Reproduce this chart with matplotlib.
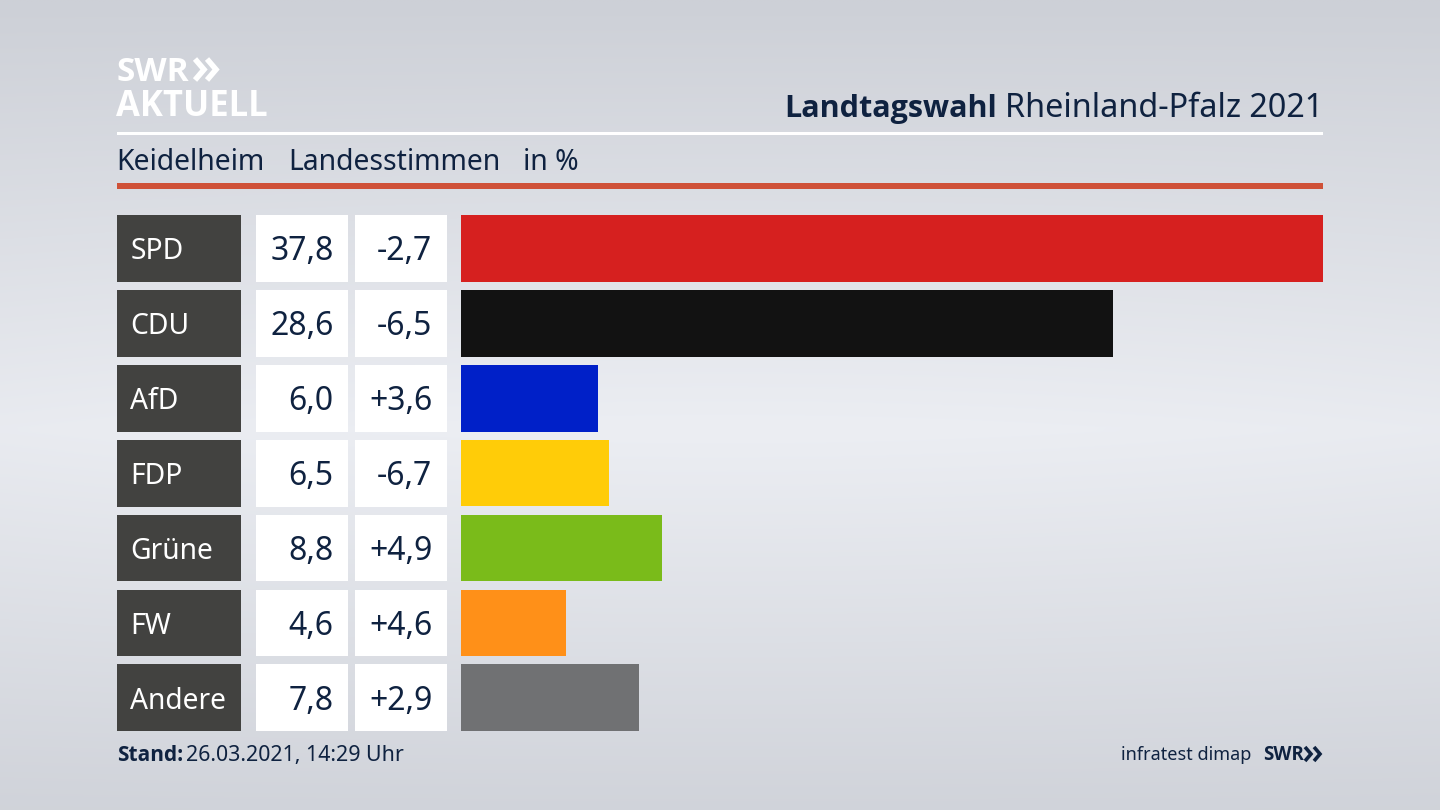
import matplotlib
matplotlib.use("Agg")
import matplotlib.pyplot as plt
import numpy as np
from matplotlib.patches import Rectangle

plt.rcParams['font.family'] = ['Noto Sans', 'DejaVu Sans']
BOLD = ['Open Sans', 'DejaVu Sans']

# data
parties = ["SPD", "CDU", "AfD", "FDP", "Grüne", "FW", "Andere"]
shares = [37.8, 28.6, 6.0, 6.5, 8.8, 4.6, 7.8]
changes = ["-2,7", "-6,5", "+3,6", "-6,7", "+4,9", "+4,6", "+2,9"]
colors = ["#d6201f", "#121212", "#0020c8", "#ffcc08", "#7abb1a", "#ff9018", "#707173"]

NAVY = "#0f2240"
W, H = 1440, 810
ROW_TOP = 215
ROW_STEP = 74.9
ROW_H = 66.8

fig = plt.figure(figsize=(W / 100, H / 100), dpi=100)

# page axes in pixels, for background, header and table cells
bg = fig.add_axes([0, 0, 1, 1])
bg.set_xlim(0, W)
bg.set_ylim(H, 0)
bg.axis('off')

# background, light band through the middle
yy = np.linspace(0, 1, 200)
xx = np.linspace(-1, 1, 300)
top, mid = np.array([205, 208, 215]), np.array([236, 238, 243])
shade = np.clip(1 - np.abs(yy - 0.53) / 0.53, 0, 1)[:, None] * (1 - 0.10 * xx[None, :] ** 2)
img = top + (mid - top) * shade[:, :, None]
bg.imshow(img / 255, extent=(0, W, H, 0), aspect='auto', zorder=0, interpolation='bilinear')

# logo
bg.text(117, 81, "SWR", color="white", fontsize=24, family=BOLD, fontweight='bold', ha='left', va='baseline')
bg.text(116, 116, "AKTUELL", color="white", fontsize=24.9, family=BOLD, fontweight='bold', ha='left', va='baseline')
for off in (0, 12):
    bg.plot([195 + off, 204 + off, 195 + off], [59, 69.5, 80], color="white", lw=4, solid_joinstyle='miter', solid_capstyle='butt')

# header
bg.text(997, 117, "Landtagswahl", color=NAVY, fontsize=22, family=BOLD, fontweight='bold', ha='right', va='baseline')
bg.text(1323, 117, "Rheinland-Pfalz 2021", color=NAVY, fontsize=23.3, ha='right', va='baseline')
bg.add_patch(Rectangle((117, 132), 1206, 3, color="white", lw=0, zorder=2))
for x, s in [(116, "Keidelheim"), (288, "Landesstimmen"), (523, "in %")]:
    bg.text(x, 170, s, color=NAVY, fontsize=20.4, ha='left', va='baseline')
bg.add_patch(Rectangle((117, 183), 1206, 6, color="#cf5138", lw=0, zorder=2))

# table cells
for i, party in enumerate(parties):
    y = ROW_TOP + i * ROW_STEP
    base = y + ROW_H / 2 + 12
    bg.add_patch(Rectangle((117, y), 124, ROW_H, color="#424240", lw=0, zorder=2))
    bg.add_patch(Rectangle((255.5, y), 92.5, ROW_H, color="white", lw=0, zorder=2))
    bg.add_patch(Rectangle((354.5, y), 92.5, ROW_H, color="white", lw=0, zorder=2))
    bg.text(130.5, base - 1, party, color="white", fontsize=20.3, ha='left', va='baseline', zorder=3)
    bg.text(333.5, base, f"{shares[i]:.1f}".replace(".", ","), color=NAVY, fontsize=23, ha='right', va='baseline', zorder=3)
    bg.text(432.5, base, changes[i], color=NAVY, fontsize=23, ha='right', va='baseline', zorder=3)

# bars
ax = fig.add_axes([461 / W, 1 - (ROW_TOP + 6 * ROW_STEP + ROW_H) / H, 862 / W, (6 * ROW_STEP + ROW_H) / H])
ax.patch.set_alpha(0)
ax.barh(range(len(parties)), shares, height=ROW_H / ROW_STEP, color=colors)
ax.set_xlim(0, max(shares))
pad = ROW_H / ROW_STEP / 2
ax.set_ylim(6 + pad, -pad)
ax.axis('off')

# footer
bg.text(117, 761, "Stand:", color=NAVY, fontsize=15, family=BOLD, fontweight='bold', ha='left', va='baseline')
bg.text(186, 761, "26.03.2021, 14:29 Uhr", color=NAVY, fontsize=15.4, ha='left', va='baseline')
bg.text(1251, 760, "infratest dimap", color=NAVY, fontsize=13, ha='right', va='baseline')
bg.text(1263, 760, "SWR", color=NAVY, fontsize=13.5, family=BOLD, fontweight='bold', ha='left', va='baseline')
for off in (0, 9):
    bg.plot([1305 + off, 1311 + off, 1305 + off], [747, 754, 761], color=NAVY, lw=2.6, solid_joinstyle='miter', solid_capstyle='butt')

fig.savefig("out.png", dpi=100)
